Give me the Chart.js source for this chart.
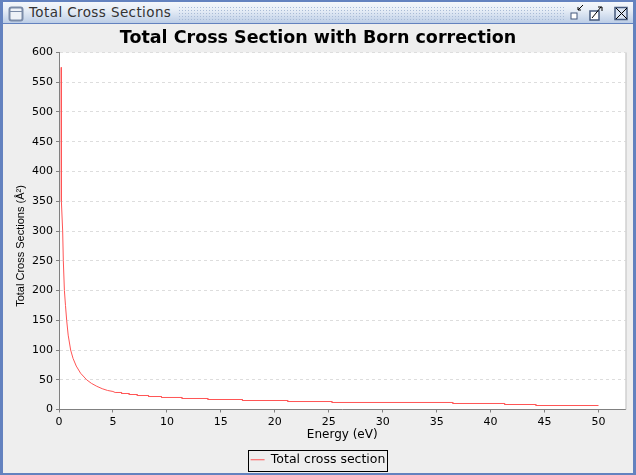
<!DOCTYPE html>
<html>
<head>
<meta charset="utf-8">
<title>Total Cross Sections</title>
<script src="https://cdn.jsdelivr.net/npm/chart.js@4"></script>
<style>
  html, body { margin: 0; padding: 0; background: #eeeeee; overflow: hidden; }
  #win { position: absolute; left: 0; top: 0; width: 636px; height: 475px; background: #eeeeee; overflow: hidden; }
  #edgeL, #edgeR, #edgeB, #edgeT { position: absolute; background: #6382bf; }
  #edgeL { left: 0; top: 0; width: 3px; height: 475px; }
  #edgeR { right: 0; top: 0; width: 3px; height: 475px; }
  #edgeB { left: 0; bottom: 0; width: 636px; height: 2px; }
  #edgeT { left: 0; top: 0; width: 636px; height: 2px; }
  #bar { position: absolute; left: 3px; top: 2px; width: 630px; height: 22px;
         background: linear-gradient(#f4f7fb, #e6edf6 40%, #bccde6); border-bottom: 1px solid #6382bf; box-sizing: border-box; }
  #dots { position: absolute; left: 175px; top: 4px; width: 388px; height: 15px;
          background-image: radial-gradient(#a9bbd6 0.8px, transparent 0.9px);
          background-size: 3px 3px; }
  #barTitle { position: absolute; left: 26px; top: 2px; font: 13.5px "DejaVu Sans", sans-serif; color: #333333;
              letter-spacing: 0.4px; white-space: nowrap; }
  svg { position: absolute; left: 0; top: 0; }
  canvas { position: absolute; left: 0; top: 0; }
</style>
</head>
<body>
<div id="win">
  <div id="edgeT"></div><div id="edgeL"></div><div id="edgeR"></div><div id="edgeB"></div>
  <div id="bar"><div id="dots"></div><div id="barTitle">Total Cross Sections</div></div>
  <svg width="636" height="24">
    <rect x="9.5" y="7.5" width="13" height="13" rx="2" fill="#eef2f8" stroke="#7a8ba8" stroke-width="2"/>
    <line x1="10" y1="11.5" x2="22" y2="11.5" stroke="#7a8ba8"/>
    <rect x="571" y="13" width="6" height="6" fill="#ffffff" stroke="#45597c"/>
    <path d="M578 10 L583 5 M578 10 h3 M578 10 v-3" stroke="#000" fill="none"/>
    <rect x="590" y="11" width="9" height="9" fill="#ffffff" stroke="#45597c" stroke-width="1.5"/>
    <path d="M592 18 L601 7 M598 7 h4 v4" stroke="#000" fill="none"/>
    <rect x="615" y="7.5" width="12" height="12" fill="#d9e3f2" stroke="#45597c" stroke-width="1.5"/>
    <path d="M616 8 L627 19 M627 8 L616 19" stroke="#000" fill="none"/>
  </svg>
  <canvas id="crossChart" width="636" height="475"></canvas>
</div>
<script>
// values, the tail goes in small flat steps
const energy = [0.2, 0.205, 0.21, 0.22, 0.25, 0.34, 0.4, 0.5, 0.6, 0.71, 0.85, 1.08, 1.3, 1.6, 2.0, 2.56, 3.0, 3.5, 4.0, 4.5,
  5.0, 5.2, 5.8, 5.8, 6.5, 6.5, 7.25, 7.25, 8.3, 8.3, 9.5, 9.5, 11.4, 11.4, 13.8, 13.8, 17.0, 17.0, 21.2, 21.2, 25.3, 25.3,
  36.5, 36.5, 41.3, 41.3, 44.2, 44.2, 50.0];
const crossSection = [575, 500, 450, 400, 350, 300, 250, 200, 175, 150, 125, 100, 86, 73, 61, 50, 44, 39, 35, 32,
  30.3, 28.6, 28.6, 26.9, 26.9, 25.2, 25.2, 23.5, 23.5, 21.8, 21.8, 20.2, 20.2, 18.5, 18.5, 16.8, 16.8, 15.1, 15.1, 13.4, 13.4, 11.8,
  11.8, 10.1, 10.1, 8.4, 8.4, 6.7, 6.7];
const seriesName = 'Total cross section';
const chartTitle = 'Total Cross Section with Born correction';
const xLabel = 'Energy (eV)';
const yLabel = 'Total Cross Sections (\u00c5\u00b2)';

const points = energy.map((e, i) => ({ x: e, y: crossSection[i] }));
const font = 'DejaVu Sans';

// white plot background, light frame, box round the legend and the y title
// (the y title sits off centre in the original so it is not the scale's own)
const framePlugin = {
  id: 'frame',
  beforeDraw(chart) {
    const a = chart.chartArea;
    chart.ctx.fillStyle = '#ffffff';
    chart.ctx.fillRect(a.left, a.top, a.width, a.height);
  },
  afterDraw(chart) {
    const c = chart.ctx, a = chart.chartArea;
    c.save();
    c.strokeStyle = '#c0c0c0';
    c.lineWidth = 1;
    c.beginPath();
    c.moveTo(a.right + 0.5, a.top);
    c.lineTo(a.right + 0.5, a.bottom);
    c.stroke();
    c.strokeStyle = '#000000';
    c.strokeRect(248.5, 450.5, 139, 21);
    c.translate(21, 246);
    c.rotate(-Math.PI / 2);
    c.fillStyle = '#000000';
    c.font = '11px "Liberation Sans"';
    c.textAlign = 'center';
    c.textBaseline = 'middle';
    c.fillText(yLabel, 0, 0);
    c.restore();
  }
};

new Chart(document.getElementById('crossChart'), {
  type: 'line',
  plugins: [framePlugin],
  data: {
    datasets: [{
      label: seriesName,
      data: points,
      borderColor: '#ff5555',
      backgroundColor: '#ff5555',
      borderWidth: 1,
      pointRadius: 0,
      pointStyle: 'line',
      fill: false
    }]
  },
  options: {
    responsive: false,
    animation: false,
    layout: { padding: { left: 10.5, right: 10.5, top: 27, bottom: -1 } },
    plugins: {
      tooltip: { enabled: false },
      title: {
        display: true,
        text: chartTitle,
        color: '#000000',
        font: { family: font, size: 17.5, weight: 'bold' },
        padding: { top: 1, bottom: 3.5 }
      },
      legend: {
        position: 'bottom',
        labels: {
          color: '#000000',
          font: { family: font, size: 12.5 },
          usePointStyle: true,
          pointStyleWidth: 14,
          boxHeight: 12,
          padding: 0
        }
      }
    },
    scales: {
      x: {
        type: 'linear',
        min: 0,
        max: 52.5,
        afterFit(s) { s.height = 44; },
        title: { display: true, text: xLabel, color: '#000000', font: { family: font, size: 12 }, padding: { top: 0, bottom: 11 } },
        ticks: { stepSize: 5, includeBounds: false, maxRotation: 0, color: '#000000', font: { family: font, size: 11 }, padding: 3 },
        grid: { drawOnChartArea: false, drawTicks: true, tickLength: 3, tickColor: '#808080' },
        border: { color: '#808080' }
      },
      y: {
        min: 0,
        max: 600,
        afterFit(s) { s.width = 48.5; },
        ticks: { stepSize: 50, color: '#000000', font: { family: font, size: 11 }, padding: 3 },
        grid: { color: '#dddddd', tickColor: '#808080', tickLength: 3, tickBorderDash: [] },
        border: { color: '#808080', dash: [3, 3] }
      }
    }
  }
});
</script>
</body>
</html>
